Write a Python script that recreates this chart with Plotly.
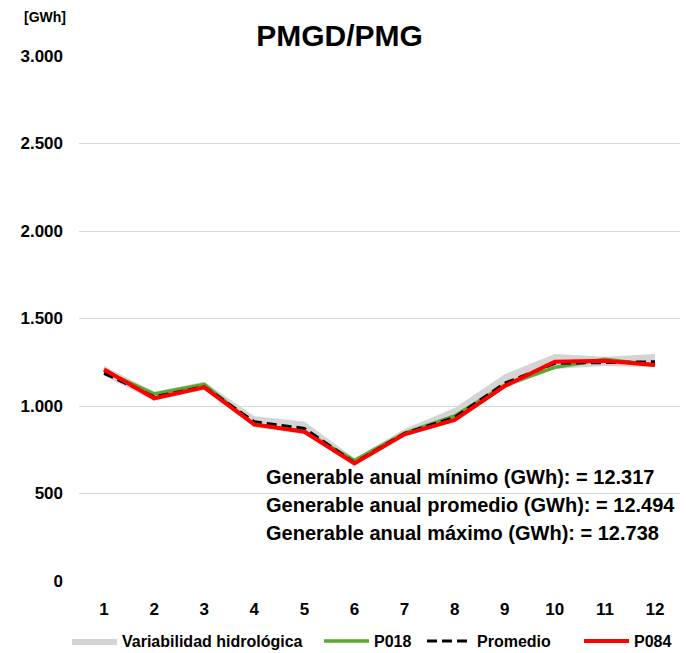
import plotly.graph_objects as go

meses = ["1", "2", "3", "4", "5", "6", "7", "8", "9", "10", "11", "12"]

var_min = [1172, 1032, 1092, 878, 838, 658, 828, 908, 1102, 1212, 1228, 1222]
var_max = [1228, 1082, 1138, 942, 912, 702, 868, 988, 1182, 1297, 1282, 1297]
p018 = [1200, 1069, 1124, 893, 855, 688, 845, 943, 1120, 1221, 1267, 1234]
promedio = [1187, 1053, 1110, 910, 872, 676, 844, 935, 1130, 1244, 1248, 1253]
p084 = [1208, 1044, 1107, 895, 853, 672, 838, 920, 1114, 1253, 1259, 1234]

generable = [("mínimo", "12.317"), ("promedio", "12.494"), ("máximo", "12.738")]

FONT = "Liberation Sans"

fig = go.Figure()

# banda de variabilidad hidrológica
fig.add_trace(go.Scatter(x=meses, y=var_min, mode="lines", line=dict(width=0),
                         showlegend=False, hoverinfo="skip"))
fig.add_trace(go.Scatter(x=meses, y=var_max, mode="lines", line=dict(width=0),
                         fill="tonexty", fillcolor="#d4d4d4",
                         name="Variabilidad hidrológica", legend="legend"))

fig.add_trace(go.Scatter(x=meses, y=p018, mode="lines", name="P018", legend="legend2",
                         line=dict(color="#5aa832", width=3.5)))
fig.add_trace(go.Scatter(x=meses, y=promedio, mode="lines", name="Promedio", legend="legend3",
                         line=dict(color="#000000", width=3, dash="10px,5px")))
fig.add_trace(go.Scatter(x=meses, y=p084, mode="lines", name="P084", legend="legend4",
                         line=dict(color="#ff0000", width=4)))

fig.update_xaxes(
    type="category",
    range=[-0.5, 11.5],
    showgrid=False,
    showline=False,
    ticks="",
    ticklabelstandoff=16,
    tickfont=dict(family=FONT, size=17, color="#000", weight="bold"),
)

fig.update_yaxes(
    range=[0, 3000],
    dtick=500,
    tickformat=",d",
    gridcolor="#d9d9d9",
    gridwidth=1,
    zeroline=False,
    showline=False,
    ticklabelstandoff=15,
    tickfont=dict(family=FONT, size=17, color="#000", weight="bold"),
)

for i, (tipo, valor) in enumerate(generable):
    fig.add_annotation(
        xref="paper", yref="paper", x=(264 - 79) / 601, y=(581 - 477 - 28 * i) / 525,
        xanchor="left", yanchor="middle", showarrow=False,
        text=f"<b>Generable anual {tipo} (GWh): = {valor}</b>",
        font=dict(family=FONT, size=20, color="#000"),
    )

fig.add_annotation(
    xref="paper", yref="paper", x=(22 - 79) / 601, y=(581 - 17) / 525,
    xanchor="left", yanchor="middle", showarrow=False,
    text="<b>[GWh]</b>", font=dict(family=FONT, size=14, color="#000"),
)

# una leyenda por serie para ubicar cada entrada como en el original
leyenda = dict(orientation="h", xref="container", xanchor="left",
               yref="container", y=12 / 653, yanchor="middle", itemwidth=45,
               bgcolor="rgba(0,0,0,0)",
               font=dict(family=FONT, size=16, color="#000", weight="bold"))
posiciones = {"legend": 73, "legend2": 325, "legend3": 428, "legend4": 585}

fig.update_layout(
    width=686, height=653,
    margin=dict(l=79, r=6, t=56, b=72, autoexpand=False),
    separators=",.",
    title=dict(text="<b>PMGD/PMG</b>", x=0.495, xanchor="center", y=1 - 35 / 653, yanchor="middle",
               font=dict(family=FONT, size=30, color="#000")),
    plot_bgcolor="#fff",
    paper_bgcolor="#fff",
    showlegend=True,
    **{k: dict(leyenda, x=(px_ - 6) / 686) for k, px_ in posiciones.items()},
)

fig.write_html("out.html", config={"displayModeBar": False},
               post_script="document.body.style.margin='0';")
